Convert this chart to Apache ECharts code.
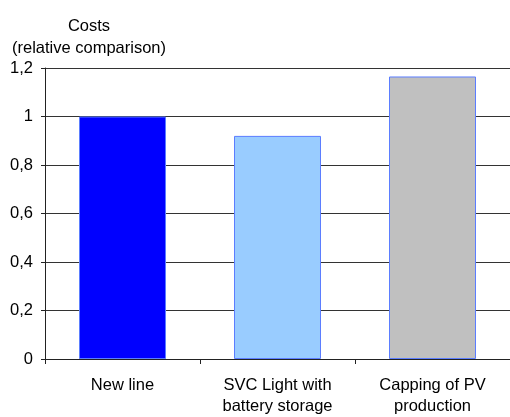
<!DOCTYPE html>
<html>
<head>
<meta charset="utf-8">
<script src="https://cdn.jsdelivr.net/npm/echarts@6/dist/echarts.min.js"></script>
<style>html,body{margin:0;padding:0;background:#fff}#c{width:510px;height:417px}</style>
</head>
<body>
<div id="c"></div>
<script>
var categories = ['New line', 'SVC Light with\nbattery storage', 'Capping of PV\nproduction'];
var costs = [1.0, 0.92, 1.165];
var barColors = ['#0000ff', '#99ccff', '#c0c0c0'];
var yTicks = [0, 0.2, 0.4, 0.6, 0.8, 1, 1.2];

var chart = echarts.init(document.getElementById('c'), null, {renderer: 'canvas'});
var font = 'Liberation Sans, Arial, sans-serif';
chart.setOption({
  animation: false,
  title: {
    text: 'Costs\n(relative comparison)',
    left: 84, top: 10, textAlign: 'center',
    textStyle: {fontFamily: font, fontSize: 16.5, fontWeight: 'normal', color: '#000', lineHeight: 22, align: 'center'}
  },
  grid: {left: 45, right: 0, top: 68, bottom: 57},
  xAxis: {
    type: 'category',
    data: categories,
    axisLine: {lineStyle: {color: '#222', width: 1}},
    axisTick: {show: true, length: 5, lineStyle: {color: '#222'}},
    axisLabel: {fontFamily: font, fontSize: 16.5, color: '#000', margin: 16, lineHeight: 21, interval: 0}
  },
  yAxis: {
    type: 'value',
    min: 0, max: 1.2, interval: 0.2,
    axisLine: {show: true, lineStyle: {color: '#222', width: 1}},
    axisTick: {show: true, length: 4, lineStyle: {color: '#222'}},
    axisLabel: {fontFamily: font, fontSize: 16.5, color: '#000', margin: 12,
      formatter: function (v) { return String(Math.round(v * 10) / 10).replace('.', ','); }},
    splitLine: {show: true, lineStyle: {color: '#333', width: 1}}
  },
  series: [{
    type: 'bar',
    barWidth: 87,
    data: costs.map(function (v, i) {
      return {value: v, itemStyle: {color: barColors[i], borderColor: '#5b7dff', borderWidth: 1}};
    })
  }]
});
</script>
</body>
</html>
